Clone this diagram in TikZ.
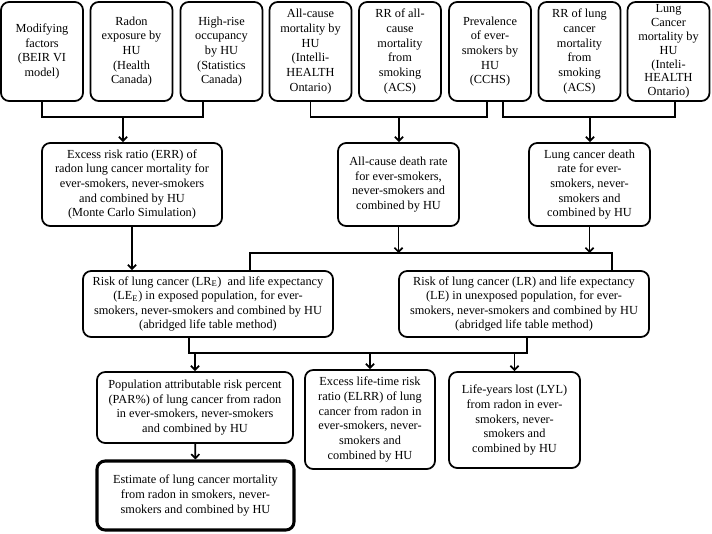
\documentclass[tikz,border=0pt]{standalone}
\usepackage{fontspec}
\setmainfont{Liberation Serif}
\usetikzlibrary{arrows.meta}

\tikzset{
    box/.style={draw, line width=1.5pt, rounded corners=7pt, align=center,
        inner sep=1pt, font=\fontsize{10.5}{12.5}\selectfont},
    topbox/.style={box, minimum width=2.46cm, minimum height=2.97cm},
    link/.style={line width=1.5pt},
    arr/.style={link, -{Straight Barb[length=3.5pt,width=7pt]}}
}

\begin{document}
\begin{tikzpicture}[x=0.03cm,y=-0.03cm]
    \useasboundingbox (0,0) rectangle (712,533);

    % sources
    \node[topbox] (m1) at (42,51.5)    {Modifying\\factors\\(BEIR VI\\model)};
    \node[topbox] (m2) at (131.5,51.5) {Radon\\exposure by\\HU\\(Health\\Canada)};
    \node[topbox] (m3) at (221.5,51.5) {High-rise\\occupancy\\by HU\\(Statistics\\Canada)};
    \node[topbox] (m4) at (310.5,51.5) {All-cause\\mortality by\\HU\\(Intelli-\\HEALTH\\Ontario)};
    \node[topbox] (m5) at (400,51.5)   {RR of all-\\cause\\mortality\\from\\smoking\\(ACS)};
    \node[topbox] (m6) at (490,51.5)   {Prevalence\\of ever-\\smokers by\\HU\\(CCHS)};
    \node[topbox] (m7) at (579.5,51.5) {RR of lung\\cancer\\mortality\\from\\smoking\\(ACS)};
    \node[topbox, font=\fontsize{10.5}{11.8}\selectfont] (m8) at (668.5,51.5)
        {Lung\\Cancer\\mortality by\\HU\\(Inteli-\\HEALTH\\Ontario)};

    % rates
    \node[box, minimum width=5.4cm, minimum height=2.49cm] (err) at (132,184.5)
        {Excess risk ratio (ERR) of\\radon lung cancer mortality for\\ever-smokers, never-smokers\\and combined by HU\\(Monte Carlo Simulation)};
    \node[box, minimum width=3.63cm, minimum height=2.49cm] (alld) at (398.5,184.5)
        {All-cause death rate\\for ever-smokers,\\never-smokers and\\combined by HU};
    \node[box, minimum width=3.63cm, minimum height=2.49cm] (lcd) at (589.5,184.5)
        {Lung cancer death\\rate for ever-\\smokers, never-\\smokers and\\combined by HU};

    % life tables
    \node[box, minimum width=7.5cm, minimum height=1.98cm] (lre) at (208,304)
        {Risk of lung cancer (LR\textsubscript{E})\ \ and life expectancy\\(LE\textsubscript{E}) in exposed population, for ever-\\smokers, never-smokers and combined by HU\\(abridged life table method)};
    \node[box, minimum width=7.5cm, minimum height=1.98cm] (lr) at (524,304)
        {Risk of lung cancer (LR) and life expectancy\\(LE) in unexposed population, for ever-\\smokers, never-smokers and combined by HU\\(abridged life table method)};

    % results
    \node[box, minimum width=5.88cm, minimum height=2.13cm] (par) at (195,407.5)
        {Population attributable risk percent\\(PAR\%) of lung cancer from radon\\in ever-smokers, never-smokers\\and combined by HU};
    \node[box, minimum width=3.9cm, minimum height=2.97cm] (elrr) at (370,419.5)
        {Excess life-time risk\\ratio (ELRR) of lung\\cancer from radon in\\ever-smokers, never-\\smokers and\\combined by HU};
    \node[box, minimum width=3.93cm, minimum height=2.88cm] (lyl) at (514.5,420)
        {Life-years lost (LYL)\\from radon in ever-\\smokers, never-\\smokers and\\combined by HU};
    \node[box, line width=2.6pt, minimum width=5.91cm, minimum height=2.07cm] (est) at (195.5,495.5)
        {Estimate of lung cancer mortality\\from radon in smokers, never-\\smokers and combined by HU};

    % top buses
    \coordinate (busL) at (123,117);
    \coordinate (busM) at (399,117);
    \coordinate (busR) at (590,117);
    \coordinate (s3) at ([xshift=-0.555cm]m3.south);
    \coordinate (s6a) at ([xshift=-0.09cm]m6.south);
    \coordinate (s6b) at ([xshift=0.39cm]m6.south);
    \coordinate (s8) at ([xshift=0.195cm]m8.south);
    \draw[link] (m1.south) |- (busL) -| (s3);
    \draw[link] (m4.south) |- (busM) -| (s6a);
    \draw[link] (s6b) |- (busR) -| (s8);
    \draw[arr] (busL) -- (busL |- err.north);
    \draw[arr] (busM) -- (busM |- alld.north);
    \draw[arr] (busR) -- (busR |- lcd.north);

    % middle bus
    \coordinate (mid) at (399,253);
    \coordinate (t1) at (250,271);
    \coordinate (t2) at (612,271);
    \draw[arr] (err.south) -- (err.south |- lre.north);
    \draw[arr] (alld.south) -- (alld.south |- mid);
    \draw[arr] (lcd.south) -- (lcd.south |- mid);
    \draw[link] (t1) |- (mid) -| (t2);

    % bottom bus
    \coordinate (bot) at (370,353);
    \coordinate (b1) at ([xshift=-0.57cm]lre.south);
    \coordinate (b2) at ([xshift=0.09cm]lr.south);
    \draw[link] (b1) |- (bot) -| (b2);
    \draw[arr] (bot -| par.north) -- (par.north);
    \draw[arr] (bot) -- (elrr.north);
    \draw[arr] (bot -| lyl.north) -- (lyl.north);
    \draw[arr] (par) -- (est);

\end{tikzpicture}
\end{document}
